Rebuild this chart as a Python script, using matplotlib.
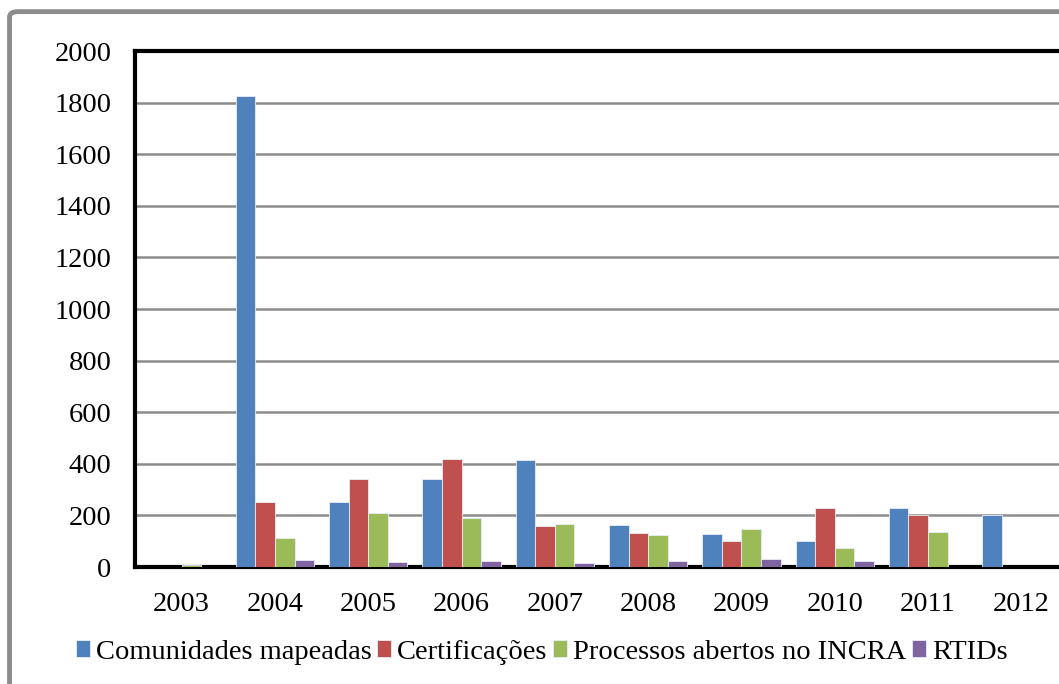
import numpy as np
import matplotlib
matplotlib.use("Agg")
import matplotlib.pyplot as plt
from matplotlib.patches import FancyBboxPatch

plt.rcParams['font.family'] = ['Liberation Serif', 'DejaVu Serif']

anos = ['2003', '2004', '2005', '2006', '2007', '2008', '2009', '2010', '2011', '2012']
comunidades = [0, 1825, 253, 341, 416, 162, 128, 100, 227, 200]
certificacoes = [0, 253, 341, 417, 160, 130, 101, 227, 200, 0]
processos = [8, 111, 209, 190, 168, 125, 147, 75, 137, 0]
rtids = [0, 26, 19, 22, 15, 23, 30, 22, 0, 0]

series = [
    ('Comunidades mapeadas', comunidades, '#4F81BD'),
    ('Certificações', certificacoes, '#C0504D'),
    ('Processos abertos no INCRA', processos, '#9BBB59'),
    ('RTIDs', rtids, '#8064A2'),
]

fig = plt.figure(figsize=(10.59, 6.84), dpi=100)

# moldura cinza do gráfico
frame = FancyBboxPatch((0.009, -0.05), 1.1, 1.033,
                       boxstyle='round,pad=0,rounding_size=0.008',
                       transform=fig.transFigure, facecolor='none',
                       edgecolor='#8C8C8C', linewidth=3.5, zorder=-1)
fig.patches.append(frame)

ax = fig.add_axes([0.1275, 0.171, 0.881, 0.7544])
x = np.arange(len(anos))
w = 0.21
for k, (nome, vals, cor) in enumerate(series):
    ax.bar(x + (k - 1.5) * w, vals, w, color=cor, edgecolor='#E8EEF7',
           linewidth=0.6, label=nome, zorder=3)

ax.set_xlim(-0.5, len(anos) - 0.5)
ax.set_ylim(0, 2000)
ax.set_yticks(range(0, 2001, 200))
ax.set_xticks(x)
ax.set_xticklabels(anos)
ax.yaxis.grid(True, color='#8C8C8C', linewidth=1.8, zorder=1)
ax.tick_params(length=0, labelsize=20.5)
ax.tick_params(axis='y', pad=17)
ax.tick_params(axis='x', pad=18)
for s in ax.spines.values():
    s.set_linewidth(3)
    s.set_color('black')

ax.legend(loc='center', bbox_to_anchor=(0.436, -0.165), ncol=4,
          frameon=False, fontsize=20.5, handlelength=0.5, handleheight=0.5,
          handletextpad=0.2, columnspacing=0.2)

fig.savefig('out.png', dpi=100)
